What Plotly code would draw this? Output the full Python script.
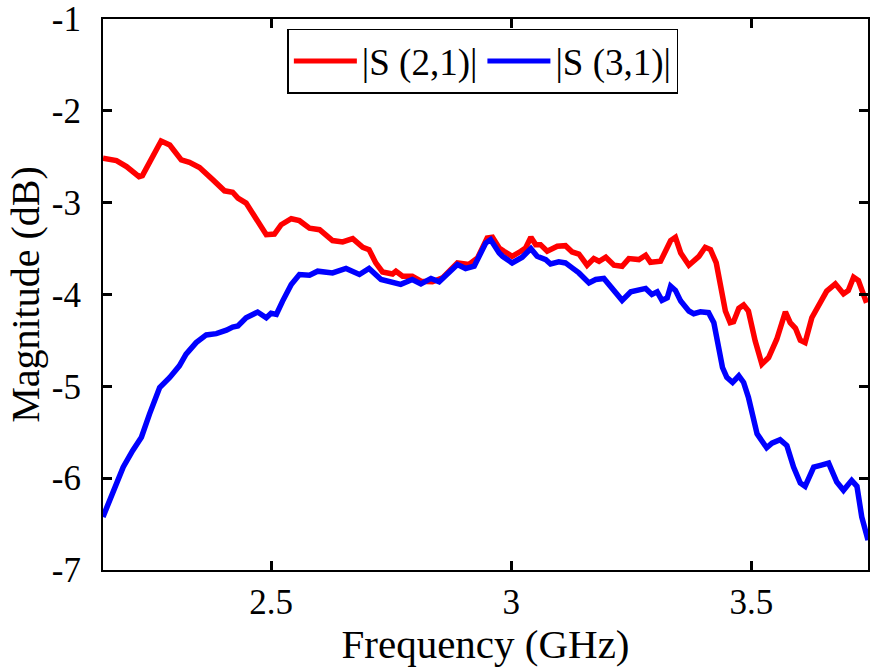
import plotly.graph_objects as go

f21 = [2.150, 2.178, 2.199, 2.225, 2.232, 2.251, 2.271, 2.289, 2.313, 2.330, 2.351, 2.379, 2.403, 2.420,
       2.431, 2.448, 2.465, 2.490, 2.507, 2.521, 2.542, 2.559, 2.580, 2.601, 2.628, 2.649, 2.670, 2.691,
       2.704, 2.718, 2.732, 2.753, 2.760, 2.774, 2.794, 2.812, 2.836, 2.857, 2.888, 2.912, 2.930, 2.950,
       2.961, 2.975, 2.985, 3.002, 3.020, 3.030, 3.041, 3.051, 3.061, 3.075, 3.096, 3.113, 3.127, 3.141,
       3.158, 3.172, 3.183, 3.197, 3.214, 3.231, 3.245, 3.266, 3.280, 3.290, 3.311, 3.332, 3.342, 3.353,
       3.370, 3.391, 3.404, 3.415, 3.427, 3.436, 3.446, 3.456, 3.463, 3.474, 3.484, 3.494, 3.508, 3.522,
       3.536, 3.553, 3.571, 3.581, 3.592, 3.602, 3.612, 3.626, 3.640, 3.657, 3.675, 3.692, 3.702, 3.713,
       3.723, 3.740]
s21 = [-2.517, -2.542, -2.607, -2.716, -2.705, -2.531, -2.329, -2.372, -2.535, -2.561, -2.618, -2.752,
       -2.871, -2.886, -2.951, -3.005, -3.150, -3.348, -3.342, -3.240, -3.175, -3.196, -3.277, -3.294,
       -3.413, -3.428, -3.391, -3.486, -3.511, -3.656, -3.754, -3.776, -3.746, -3.800, -3.800, -3.855,
       -3.862, -3.819, -3.656, -3.674, -3.602, -3.385, -3.377, -3.494, -3.529, -3.584, -3.529, -3.493,
       -3.377, -3.457, -3.457, -3.529, -3.475, -3.468, -3.537, -3.559, -3.681, -3.609, -3.638, -3.594,
       -3.681, -3.692, -3.609, -3.620, -3.573, -3.649, -3.638, -3.413, -3.377, -3.548, -3.681, -3.584,
       -3.486, -3.511, -3.656, -3.890, -4.180, -4.307, -4.296, -4.151, -4.115, -4.180, -4.505, -4.758,
       -4.687, -4.487, -4.188, -4.307, -4.368, -4.498, -4.524, -4.253, -4.107, -3.963, -3.884, -3.992,
       -3.956, -3.811, -3.847, -4.090]

f31 = [2.150, 2.171, 2.192, 2.212, 2.230, 2.247, 2.268, 2.289, 2.309, 2.323, 2.344, 2.365, 2.386, 2.407,
       2.420, 2.431, 2.448, 2.472, 2.490, 2.500, 2.511, 2.524, 2.542, 2.559, 2.580, 2.597, 2.628, 2.656,
       2.684, 2.704, 2.729, 2.770, 2.794, 2.812, 2.833, 2.850, 2.871, 2.888, 2.905, 2.923, 2.947, 2.957,
       2.975, 2.982, 3.002, 3.023, 3.041, 3.054, 3.072, 3.082, 3.099, 3.113, 3.127, 3.141, 3.162, 3.176,
       3.193, 3.210, 3.231, 3.249, 3.266, 3.280, 3.293, 3.304, 3.314, 3.325, 3.332, 3.342, 3.353, 3.370,
       3.380, 3.394, 3.411, 3.422, 3.432, 3.440, 3.449, 3.461, 3.474, 3.484, 3.494, 3.505, 3.512, 3.532,
       3.543, 3.560, 3.574, 3.588, 3.602, 3.612, 3.630, 3.644, 3.661, 3.678, 3.692, 3.709, 3.720, 3.730,
       3.743]
s31 = [-6.422, -6.132, -5.880, -5.698, -5.554, -5.300, -5.012, -4.903, -4.777, -4.650, -4.524, -4.440,
       -4.426, -4.389, -4.354, -4.343, -4.253, -4.191, -4.253, -4.205, -4.216, -4.072, -3.890, -3.782,
       -3.790, -3.746, -3.765, -3.717, -3.782, -3.717, -3.836, -3.890, -3.836, -3.884, -3.825, -3.862,
       -3.765, -3.674, -3.717, -3.692, -3.439, -3.402, -3.548, -3.584, -3.656, -3.594, -3.500, -3.584,
       -3.620, -3.667, -3.645, -3.656, -3.710, -3.765, -3.873, -3.836, -3.825, -3.934, -4.064, -3.971,
       -3.945, -3.934, -3.999, -3.971, -4.064, -4.036, -3.909, -3.955, -4.072, -4.180, -4.209, -4.188,
       -4.198, -4.307, -4.578, -4.795, -4.903, -4.958, -4.885, -4.958, -5.120, -5.337, -5.517, -5.669,
       -5.619, -5.582, -5.644, -5.880, -6.053, -6.089, -5.880, -5.861, -5.836, -6.042, -6.132, -6.024,
       -6.089, -6.422, -6.675]

x_ticks = [2.5, 3, 3.5]
x_ticktext = ["2.5", "3", "3.5"]
y_ticks = [-7, -6, -5, -4, -3, -2, -1]
y_ticktext = ["-7", "-6", "-5", "-4", "-3", "-2", "-1"]

FONT = "Liberation Serif, Times New Roman, serif"

fig = go.Figure()
fig.add_trace(go.Scatter(x=f21, y=s21, mode="lines", name="|S (2,1)|",
                         line=dict(color="#ff0000", width=5.5)))
fig.add_trace(go.Scatter(x=f31, y=s31, mode="lines", name="|S (3,1)|",
                         line=dict(color="#0000ff", width=5.5)))

axis_common = dict(showgrid=False, zeroline=False, showline=True, linecolor="black", linewidth=2,
                   mirror="ticks", ticks="inside", ticklen=9, tickwidth=2.5, tickcolor="black",
                   ticklabeloverflow="allow",
                   tickfont=dict(family=FONT, size=35, color="black"))

fig.update_xaxes(range=[2.15, 3.743], tickvals=x_ticks, ticktext=x_ticktext,
                 ticklabelstandoff=0,
                 title=dict(text="Frequency (GHz)", font=dict(family=FONT, size=41, color="black"),
                            standoff=0),
                 **axis_common)
fig.update_yaxes(range=[-7, -1], tickvals=y_ticks, ticktext=y_ticktext,
                 ticklabelstandoff=13,
                 title=dict(text="Magnitude (dB)", font=dict(family=FONT, size=40, color="black"),
                            standoff=0),
                 **axis_common)

fig.update_layout(
    width=870, height=667,
    margin=dict(l=103, r=0, t=15, b=97),
    plot_bgcolor="white", paper_bgcolor="white",
    showlegend=True,
    legend=dict(orientation="h", x=0.241, y=0.982, xanchor="left", yanchor="top",
                bgcolor="white", bordercolor="black", borderwidth=1.5,
                font=dict(family=FONT, size=37, color="black"),
                itemwidth=63, tracegroupgap=0, itemsizing="constant"),
)

fig.write_html("out.html")
